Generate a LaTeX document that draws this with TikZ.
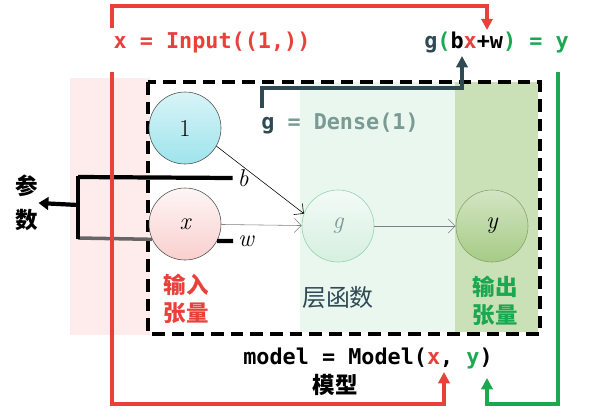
\documentclass[tikz,border=0pt]{standalone}
\usepackage{fontspec}
\setmonofont{DejaVu Sans Mono}
\newfontfamily\cjk{Noto Sans CJK SC}
\usetikzlibrary{arrows.meta,shapes.geometric}
\definecolor{rd}{HTML}{E8413A}
\definecolor{gn}{HTML}{1AA850}
\definecolor{sl}{HTML}{2E4A55}
\definecolor{gy}{HTML}{7A9A94}
\definecolor{cy}{HTML}{9EE4EC}
\definecolor{ol}{HTML}{A6CB86}
\begin{document}
\begin{tikzpicture}[x=0.025cm,y=-0.025cm,
  neur/.style={circle,draw=black!70,minimum size=1.8cm,inner sep=0pt,font=\LARGE\itshape},
  code/.style={font=\ttfamily\bfseries\fontsize{15.5}{18}\selectfont,inner sep=0pt},
  cj/.style={font=\cjk\bfseries\fontsize{16}{20}\selectfont,align=center,inner sep=0pt},
  arr/.style={-{Triangle[length=8pt,width=8pt]}}]
\useasboundingbox (0,0) rectangle (600,416);
\fill[rd!10] (70,78) rectangle (150,335);
\fill[gn!9] (300,82) rectangle (455,332);
\fill[ol!60] (455,82) rectangle (538,332);
\draw[line width=2.8pt,dash pattern=on 9pt off 5pt] (148,82) rectangle (540,334);
% red connector
\node[code,text=rd] (inp) at (212,42) {x = Input((1,))};
\node[code,anchor=west] (gf) at (424,42) {\textcolor{sl}{g}\textcolor{gn}{(}b\textcolor{rd}{x}+w\textcolor{gn}{)} \textcolor{gn}{= y}};
\coordinate (gt) at (487,30);
\draw[rd,line width=2.5pt,arr] (112,28) |- (487,6) -- (gt);
\node[code] (dense) at (340,123) {\textcolor{sl}{g} \textcolor{gy}{= Dense(1)}};
\draw[sl,line width=3pt,arr] (262,108) |- (462,88) -- (462,56);
% neurons
\node[neur,top color=cy!40,bottom color=cy] (n1) at (185,128) {\upshape 1};
\node[neur,top color=rd!5,bottom color=rd!25] (nx) at (185,224) {x};
\node[neur,draw=gn!50,top color=gn!5,bottom color=gn!18,text=gy] (ng) at (338,226) {g};
\node[neur,draw=ol!80!black,top color=ol!50,bottom color=ol] (ny) at (492,226) {y};
\draw[thin,-{Straight Barb[length=5pt]}] (n1.-30) -- (ng.160);
\draw[thin,gray,-{Straight Barb[length=5pt]}] (nx) -- (ng);
\draw[thin,gray,-{Straight Barb[length=5pt]}] (ng) -- (ny);
% parameters
\node[font=\LARGE\itshape] (b) at (243,178) {b};
\node[font=\LARGE\itshape] (w) at (246,241) {w};
\draw[line width=3pt] (78,177) -- (b.west);
\draw[line width=3pt] (nx.-28) -- (w.west);
\draw[line width=2.5pt,black!60] (78,238) -- (nx.-155);
\draw[line width=3pt] (78,175.5) -- (78,239);
\node[cj] (par) at (27,203) {参\\[4pt]数};
\draw[line width=3pt,-{Triangle[length=7pt,width=9pt]}] (78,205) -- (par.east);
% labels
\node[cj,text=rd] (in) at (186,299) {输入\\张量};
\node[cj,text=sl,font=\cjk\fontsize{17}{20}\selectfont] (lf) at (338,298) {层函数};
\node[cj,text=gn] (out) at (495,301) {输出\\张量};
\node[code] (model) at (368,358) {model = Model(\textcolor{rd}{x}, \textcolor{gn}{y})};
\node[cj] (mx) at (335,385) {模型};
\draw[rd,line width=2.5pt,arr] (112,72) |- (444,404) -- (444,372);
\draw[gn,line width=2.5pt,arr] (558,72) |- (487,404) -- (487,378);
\end{tikzpicture}
\end{document}
